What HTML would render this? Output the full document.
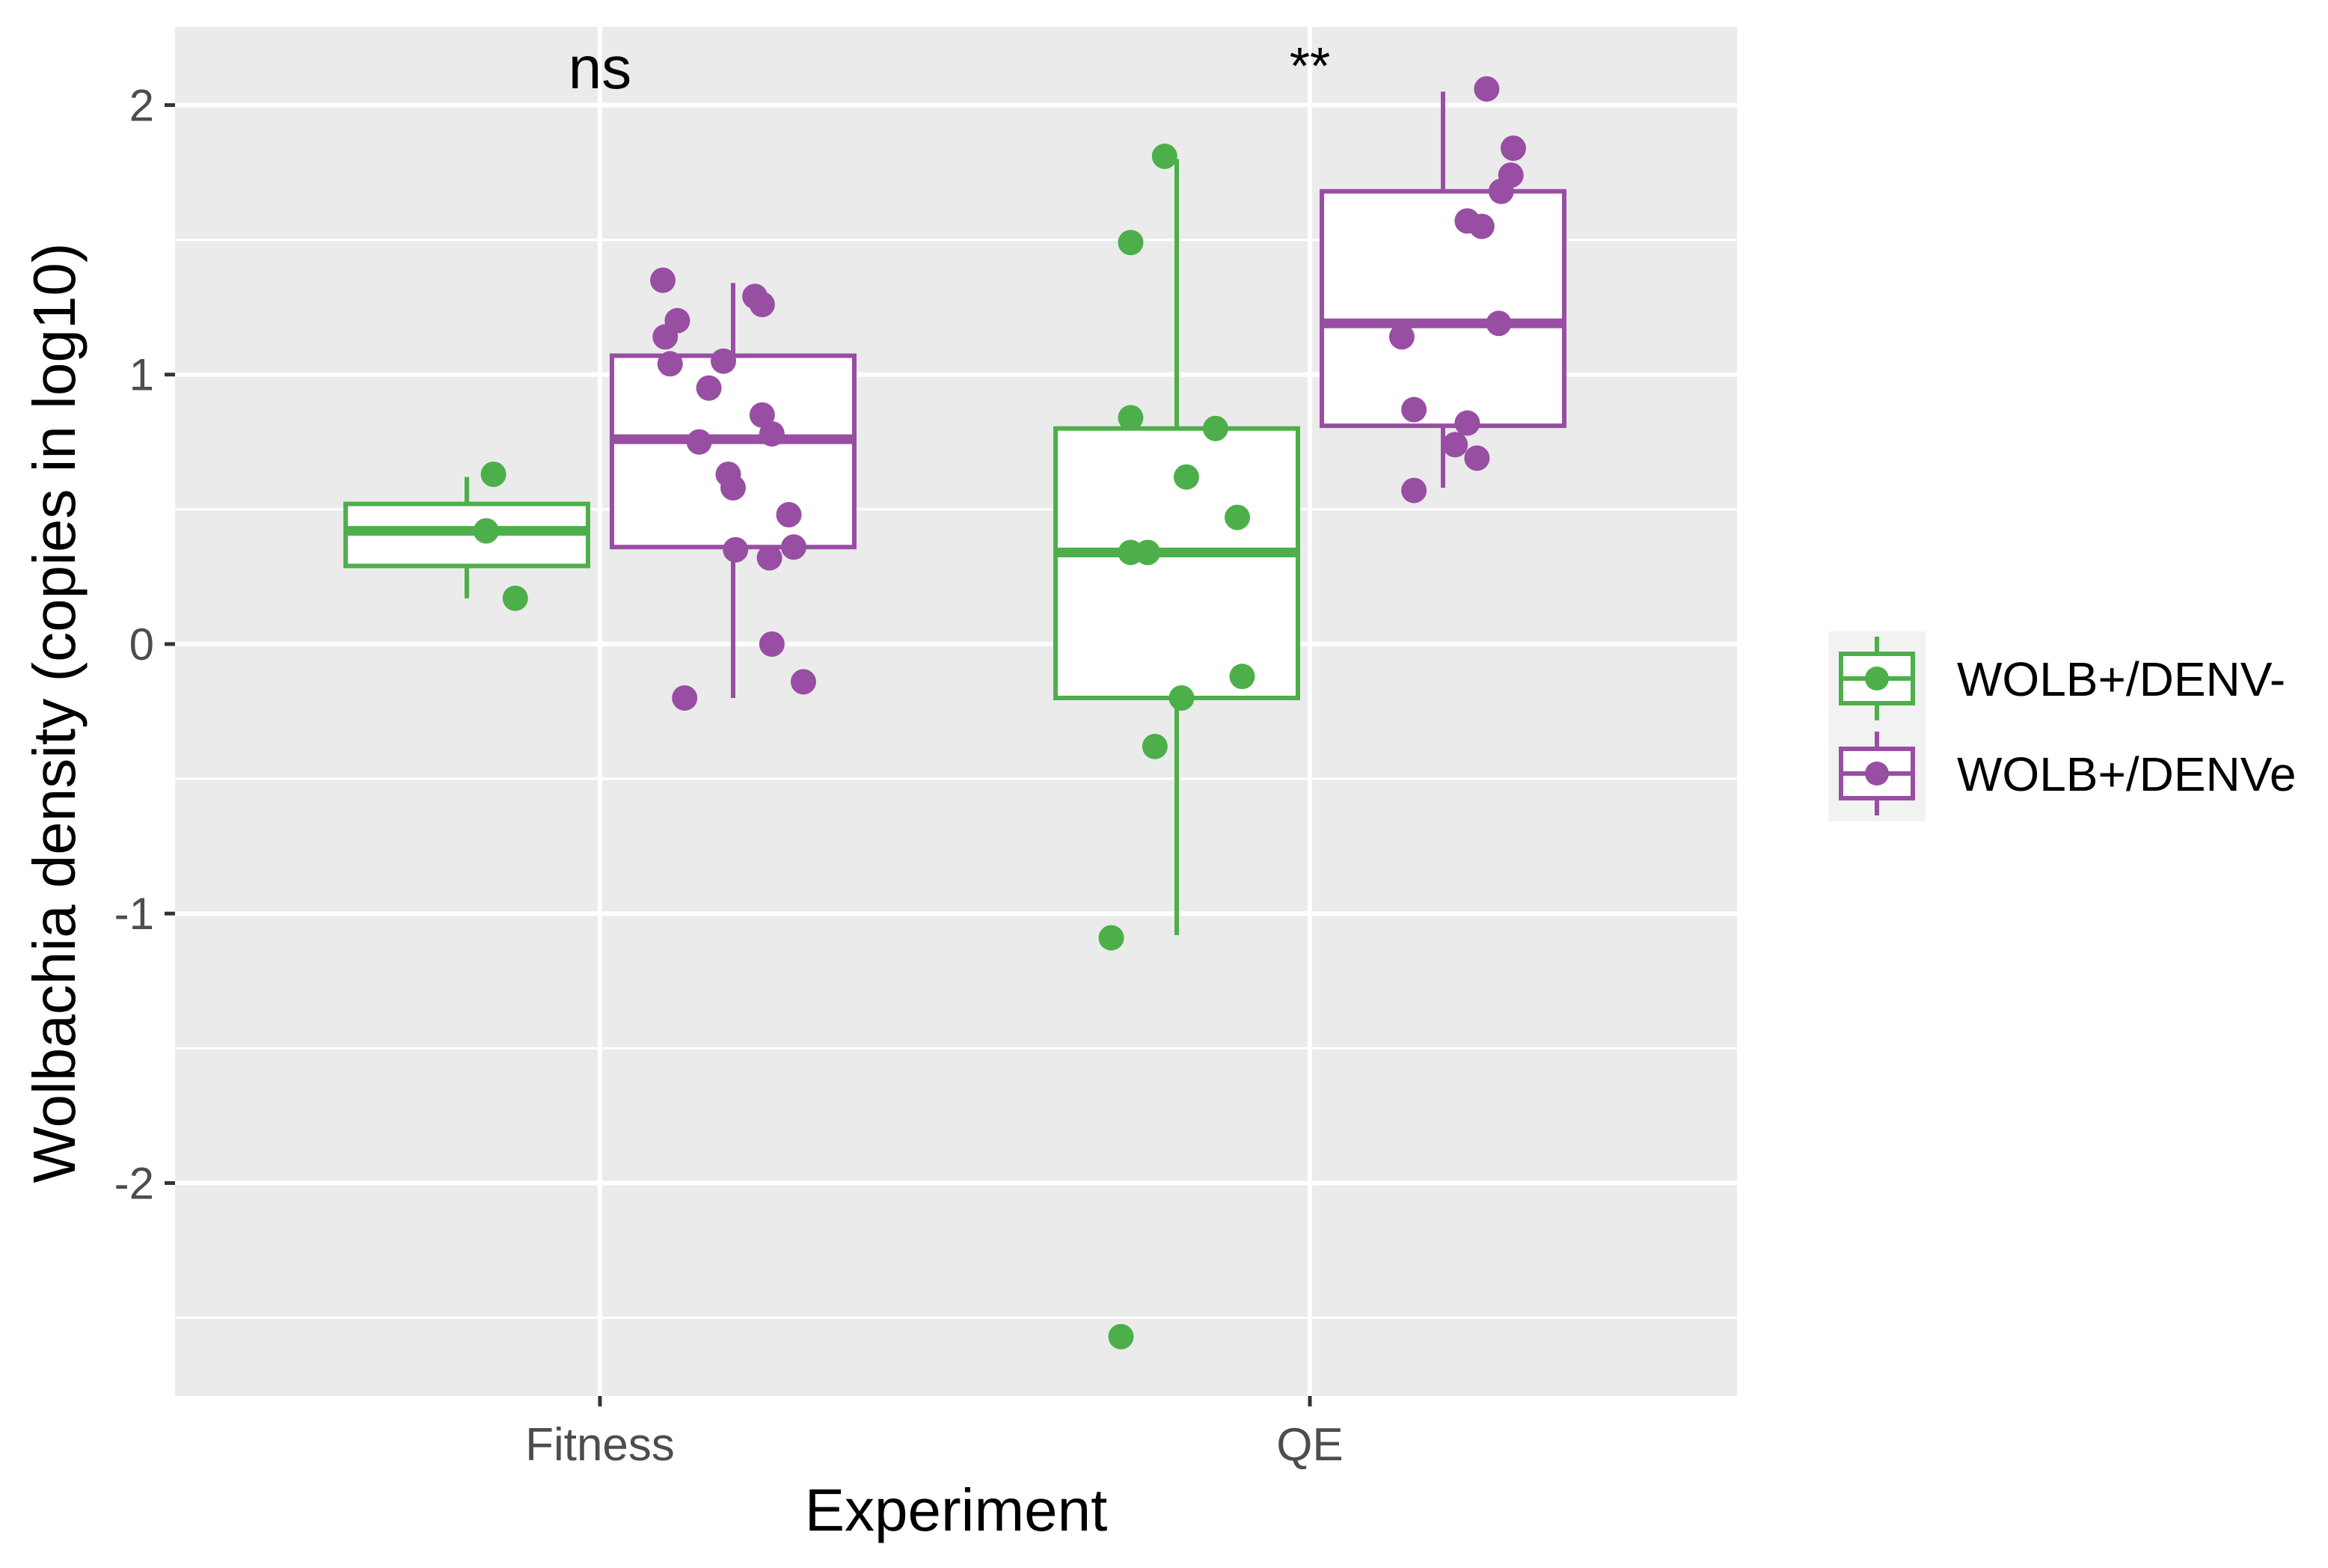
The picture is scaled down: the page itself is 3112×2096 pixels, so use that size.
<!DOCTYPE html>
<html><head><meta charset="utf-8">
<style>
html,body{margin:0;padding:0;background:#fff;}
svg{display:block;}
text{font-family:"Liberation Sans",Arial,sans-serif;}
</style></head>
<body>
<svg id="chart" width="3112" height="2096" viewBox="0 0 3112 2096" xmlns="http://www.w3.org/2000/svg">
<rect x="0" y="0" width="3112" height="2096" fill="#fff"/>
<rect x="234" y="36" width="2088" height="1830" fill="#ebebeb"/>
<g id="grid"></g>
<g id="marks"></g>
<g id="axes"></g>
<text x="1278" y="2046" font-size="80" text-anchor="middle" fill="#000">Experiment</text>
<text transform="translate(100,953) rotate(-90)" font-size="80" text-anchor="middle" fill="#000">Wolbachia density (copies in log10)</text>
<g id="legend">
<rect x="2444" y="844" width="130" height="254" fill="#f2f2f2"/>
</g>
</svg>
<script>
const categories = ["Fitness", "QE"];
const groups = ["WOLB+/DENV-", "WOLB+/DENVe"];
const groupColors = ["#4daf4a", "#984ea3"];
const signif = ["ns", "**"];
const yTicks = [-2, -1, 0, 1, 2];
// box stats per [category][group]: [lowerWhisker, q1, median, q3, upperWhisker]
const fitnessDenvNeg = [0.17, 0.29, 0.42, 0.52, 0.62];
const fitnessDenvE = [-0.20, 0.36, 0.76, 1.07, 1.34];
const qeDenvNeg = [-1.08, -0.20, 0.34, 0.80, 1.80];
const qeDenvE = [0.58, 0.81, 1.19, 1.68, 2.05];
// points: values and jitter (fraction of box width from center)
const fitnessNegVals = [0.63, 0.42, 0.17];
const fitnessNegJit = [0.11, 0.08, 0.20];
const fitnessEVals = [1.35,1.20,1.14,1.04,1.05,0.95,1.29,1.26,0.85,0.78,0.75,0.63,0.58,0.48,0.35,0.32,0.36,0.0,-0.14,-0.20];
const fitnessEJit = [-0.29,-0.23,-0.28,-0.26,-0.04,-0.10,0.09,0.12,0.12,0.16,-0.14,-0.02,0.0,0.23,0.01,0.15,0.25,0.16,0.29,-0.20];
const qeNegVals = [1.81,1.49,0.84,0.80,0.62,0.47,0.34,0.34,-0.12,-0.20,-0.38,-1.09,-2.57];
const qeNegJit = [-0.05,-0.19,-0.19,0.16,0.04,0.25,-0.19,-0.12,0.27,0.02,-0.09,-0.27,-0.23];
const qeEVals = [2.06,1.84,1.74,1.68,1.57,1.55,1.19,1.14,0.87,0.82,0.74,0.69,0.57];
const qeEJit = [0.18,0.29,0.28,0.24,0.10,0.16,0.23,-0.17,-0.12,0.10,0.05,0.14,-0.12];

const NS = "http://www.w3.org/2000/svg";
const panel = {left:234, right:2322, top:36, bottom:1866};
const yMin = -2.79, yMax = 2.29;
function yScale(v){ return panel.bottom - (v - yMin)/(yMax - yMin)*(panel.bottom - panel.top); }
const catPos = [802, 1751];
function xScale(ci){ return catPos[ci]; }
const dodge = 178, boxW = 324;
function mk(tag, attrs, parent){ const e=document.createElementNS(NS,tag); for(const k in attrs) e.setAttribute(k, attrs[k]); parent.appendChild(e); return e; }

const grid = document.getElementById('grid');
const marks = document.getElementById('marks');
const axes = document.getElementById('axes');
for (let i=0;i<yTicks.length;i++){
  const v = yTicks[i]-0.5;
  const l = mk('line',{x1:panel.left,x2:panel.right,y1:yScale(v),y2:yScale(v),stroke:'#fff','stroke-width':3},grid);
  
  
}
for (const v of yTicks){
  const l = mk('line',{x1:panel.left,x2:panel.right,y1:yScale(v),y2:yScale(v),stroke:'#fff','stroke-width':6},grid);
  
  
  const t = mk('line',{x1:220,x2:234,y1:yScale(v),y2:yScale(v),stroke:'#333','stroke-width':5},axes);
  
  
  const tx = mk('text',{x:206,y:yScale(v)+21,'font-size':60,'text-anchor':'end',fill:'#4d4d4d'},axes);
  tx.textContent = String(v);
  
  
}
categories.forEach((c,ci)=>{
  const l = mk('line',{x1:xScale(ci),x2:xScale(ci),y1:panel.top,y2:panel.bottom,stroke:'#fff','stroke-width':6},grid);
  
  
  const t = mk('line',{x1:xScale(ci),x2:xScale(ci),y1:panel.bottom,y2:panel.bottom+14,stroke:'#333','stroke-width':5},axes);
  
  
  const tx = mk('text',{x:xScale(ci),y:1952,'font-size':62,'text-anchor':'middle',fill:'#4d4d4d'},axes);
  tx.textContent = c;
  
  
  const s = mk('text',{x:xScale(ci),y:ci===0?118:112,'font-size':ci===0?80:70,'text-anchor':'middle',fill:'#000'},marks);
  s.textContent = signif[ci];
  
  
});

const boxStats = [[fitnessDenvNeg, fitnessDenvE],[qeDenvNeg, qeDenvE]];
const ptVals = [[fitnessNegVals, fitnessEVals],[qeNegVals, qeEVals]];
const ptJit = [[fitnessNegJit, fitnessEJit],[qeNegJit, qeEJit]];
for (let ci=0;ci<2;ci++){
  for (let gi=0;gi<2;gi++){
    const cx = xScale(ci) + (gi===0?-dodge:dodge);
    const s = boxStats[ci][gi], col = groupColors[gi];
    const g = mk('g',{},marks);
    
    
    mk('line',{x1:cx,x2:cx,y1:yScale(s[0]),y2:yScale(s[1]),stroke:col,'stroke-width':6},g);
    mk('line',{x1:cx,x2:cx,y1:yScale(s[3]),y2:yScale(s[4]),stroke:col,'stroke-width':6},g);
    mk('rect',{x:cx-boxW/2,y:yScale(s[3]),width:boxW,height:yScale(s[1])-yScale(s[3]),fill:'#fff',stroke:col,'stroke-width':6},g);
    mk('line',{x1:cx-boxW/2,x2:cx+boxW/2,y1:yScale(s[2]),y2:yScale(s[2]),stroke:col,'stroke-width':13},g);
    const vals = ptVals[ci][gi], jit = ptJit[ci][gi];
    for (let i=0;i<vals.length;i++){
      const p = mk('circle',{cx:cx+jit[i]*boxW,cy:yScale(vals[i]),r:17,fill:col},marks);
      
      
    }
  }
}
const legend = document.getElementById('legend');
const keyY = [907, 1034];
groups.forEach((gname,gi)=>{
  const col = groupColors[gi], cx = 2509, cy = keyY[gi];
  const k = mk('g',{},legend);
  
  
  mk('line',{x1:cx,x2:cx,y1:cy-56,y2:cy+56,stroke:col,'stroke-width':6},k);
  mk('rect',{x:cx-48,y:cy-33,width:96,height:66,fill:'#fff',stroke:col,'stroke-width':6},k);
  mk('line',{x1:cx-48,x2:cx+48,y1:cy,y2:cy,stroke:col,'stroke-width':6},k);
  mk('circle',{cx:cx,cy:cy,r:16,fill:col},k);
  const t = mk('text',{x:2616,y:cy+23,'font-size':64,fill:'#000'},k);
  t.textContent = gname;
});
</script>
</body></html>
